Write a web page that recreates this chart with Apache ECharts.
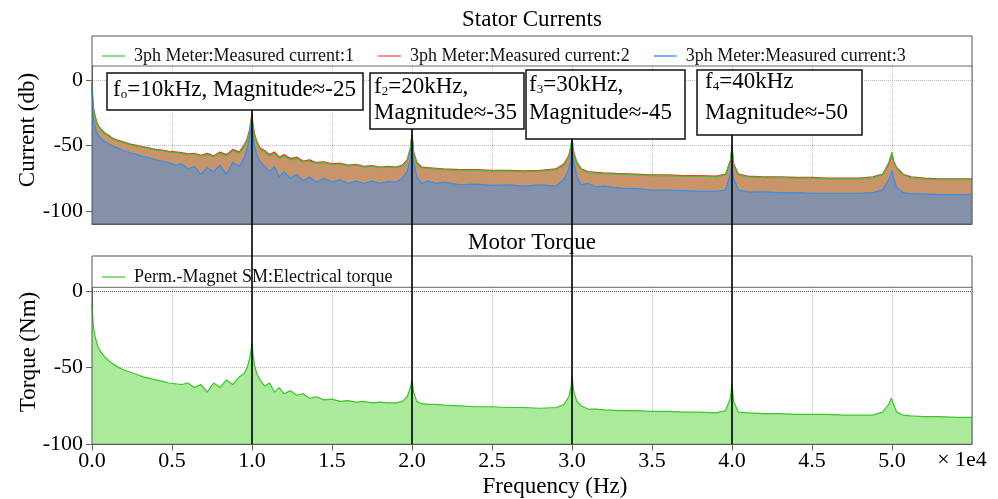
<!DOCTYPE html>
<html><head><meta charset="utf-8">
<script src="https://cdn.jsdelivr.net/npm/echarts@6/dist/echarts.min.js"></script>
<style>html,body{margin:0;padding:0;background:#fff}#c{width:998px;height:499px}</style>
</head><body><div id="c"></div>
<script>
// ---------- data ----------
const freqHz = [
  0, 50, 100, 200, 300, 400, 600, 800, 1000, 1300,
  1600, 2000, 2400, 2800, 3200, 3600, 4000, 4400, 4800, 5200,
  5600, 6000, 6400, 6800, 7200, 7600, 8000, 8400, 8800, 9200,
  9500, 9700, 9850, 9950, 10000, 10050, 10150, 10300, 10500, 10800,
  11100, 11400, 11700, 12000, 12400, 12800, 13200, 13600, 14000, 14500,
  15000, 15500, 16000, 16500, 17000, 17500, 18000, 18500, 19000, 19400,
  19700, 19900, 20000, 20100, 20300, 20600, 21000, 21500, 22000, 23000,
  24000, 25000, 26000, 27000, 28000, 29000, 29500, 29800, 29950, 30000,
  30100, 30300, 30600, 31000, 31500, 32000, 33000, 34000, 35000, 36000,
  37000, 38000, 39000, 39600, 39900, 40000, 40100, 40400, 41000, 42000,
  43000, 44000, 45000, 46000, 47000, 48000, 48800, 49400, 49800, 49950,
  50000, 50100, 50300, 50700, 51200, 52000, 53000, 54000, 55000
];
const current1 = [
  -3, -16, -23, -29, -33, -35.5, -38.5, -41, -42.5, -45,
  -46.5, -48, -49.5, -50.5, -51.5, -52.5, -53.5, -54, -55, -55.5,
  -56, -57, -56.5, -58, -57, -58.5, -56, -58, -54, -56,
  -51, -46, -40, -31, -27, -35, -42, -48, -53, -55,
  -58, -56, -60, -58, -61, -60, -62.5, -62, -63.5, -63,
  -64.5, -64, -65.5, -65, -66.5, -66, -67, -66.5, -67, -65.5,
  -62, -53, -41, -56, -64, -67, -67.5, -68, -68.5, -69,
  -69, -69.5, -69.5, -70, -69.5, -68.5, -65, -59, -49, -44,
  -56, -64, -68.5, -70.5, -71, -71.5, -72, -72.5, -73, -73,
  -73.5, -73.5, -74, -72.5, -61, -50, -65, -72.5, -74, -74.5,
  -74.5, -75, -75, -75.5, -75.5, -75.5, -74.5, -72.5, -63, -57,
  -55, -63, -68, -72.5, -74.5, -75.5, -76, -76, -76
];
const current2 = [
  -2, -15, -22, -28, -32, -35, -38, -40.5, -42, -44.5,
  -46, -47.5, -49, -50, -51, -52, -53, -53.5, -54.5, -55,
  -55.5, -56.5, -56, -57.5, -56, -58, -55, -57, -53, -55,
  -50, -45, -38, -30, -26, -33, -41, -47, -52, -54,
  -57, -55, -59, -57, -60, -59, -62, -61, -63, -62.5,
  -64, -63.5, -65, -64.5, -66, -65.5, -66.5, -66, -66.5, -65,
  -61, -52, -42, -55, -63, -66.5, -67, -67.5, -68, -68.5,
  -68.5, -69, -69, -69.5, -69, -68, -64, -58, -50, -45,
  -55, -63, -68, -70, -70.5, -71, -71.5, -72, -72.5, -72.5,
  -73, -73, -73.5, -72, -62, -52, -64, -72, -73.5, -74,
  -74, -74.5, -74.5, -75, -75, -75, -74, -72, -64, -58,
  -56, -62, -67, -72, -74, -75, -75.5, -75.5, -75.5
];
const current3 = [
  -5, -22, -30, -36, -40, -42, -45, -47, -48.5, -50.5,
  -52, -54, -55.5, -57, -58.5, -59.5, -61, -62, -63, -65,
  -64, -68, -66, -72, -67, -70, -65, -72, -63, -66,
  -60, -52, -44, -36, -31, -40, -50, -57, -62, -66,
  -70, -66, -74, -70, -75, -72, -77, -74, -78, -75,
  -78, -76, -79, -77, -79, -77, -79, -77.5, -78, -75,
  -70, -60, -46, -62, -74, -79, -77, -79, -78, -80,
  -79.5, -80.5, -80, -81, -80, -81, -76, -68, -58, -50,
  -62, -74, -80, -79, -81.5, -81, -82.5, -83, -84, -84,
  -84.5, -85, -85, -84, -72, -62, -75, -84, -85.5, -85.5,
  -86, -86, -86.5, -86.5, -86.5, -86.5, -86, -84, -76, -72,
  -69, -75, -82, -86, -87, -87, -87.5, -87.5, -87.5
];
const torque = [
  -8, -18, -24, -30, -34, -37, -40.5, -43, -45, -47.5,
  -49.5, -51.5, -53, -54.5, -56, -57, -58, -59, -60, -60.5,
  -61, -60, -63, -61, -66, -60, -63, -58, -61, -56,
  -54, -50, -44, -38, -34, -40, -48, -54, -58, -62,
  -60, -66, -63, -67, -65, -68, -67, -70, -69, -71,
  -70.5, -72, -71.5, -72.5, -72, -73, -72.5, -73, -73, -72,
  -69, -63, -58, -66, -72, -73.5, -74, -74, -74.5, -75,
  -75.5, -75.5, -76, -76, -76.5, -76, -74, -69, -62, -55,
  -65, -72, -75, -77, -77, -77.5, -78, -78, -78.5, -78.5,
  -79, -79, -79.5, -78, -70, -60, -72, -79, -79.5, -80,
  -80, -80.5, -80.5, -80.5, -81, -81, -81, -79, -74, -70,
  -69, -74, -79, -81, -81.5, -82, -82, -82.5, -82.5
];
const legendTop = ['3ph Meter:Measured current:1', '3ph Meter:Measured current:2', '3ph Meter:Measured current:3'];
const legendBottom = ['Perm.-Magnet SM:Electrical torque'];
const yTicksTop = [-100, -50, 0];
const yTicksBottom = [-100, -50, 0];
const peakFreqs = [10000, 20000, 30000, 40000];
const annotations = [
  ['{a|f}{s|o}{a|=10kHz, Magnitude≈-25}'],
  ['{a|f}{s|2}{a|=20kHz,}', 'Magnitude≈-35'],
  ['{a|f}{s|3}{a|=30kHz,}', 'Magnitude≈-45'],
  ['{a|f}{s|4}{a|=40kHz}', 'Magnitude≈-50']
];

// ---------- chart ----------
const FONT = '"Liberation Serif", "Times New Roman", serif';
const pairs = arr => freqHz.map((f, i) => [f, arr[i]]);
const chart = echarts.init(document.getElementById('c'), null, {renderer: 'canvas'});

const xBase = {
  type: 'value', min: 0, max: 55000, interval: 5000,
  axisLine: {show: true, onZero: false, lineStyle: {color: '#666'}},
  splitLine: {show: true, lineStyle: {color: '#bbb', type: 'dotted'}}
};
const yBase = (ticks, min, max, gi) => ({
  gridIndex: gi, type: 'value', min: min, max: max,
  axisLine: {show: true, onZero: false, lineStyle: {color: '#666'}},
  axisTick: {show: true, length: 6, customValues: ticks, lineStyle: {color: '#666'}},
  axisLabel: {customValues: ticks, fontSize: 22, fontFamily: FONT, color: '#000', margin: 9},
  splitLine: {show: true, lineStyle: {color: '#bbb', type: 'dotted'}}
});
const lineSeries = (name, data, color, legendColor, xi, w) => ({
  name: name, type: 'line', xAxisIndex: xi, yAxisIndex: xi, data: pairs(data),
  symbol: 'none', showSymbol: false, animation: false,
  lineStyle: {color: color, width: w || 1}, itemStyle: {color: legendColor}, z: 3
});

chart.setOption({
  animation: false,
  grid: [
    {left: 92, right: 26, top: 66, height: 158},
    {left: 92, right: 26, top: 287.3, height: 157}
  ],
  xAxis: [
    Object.assign({gridIndex: 0, axisTick: {show: false}, axisLabel: {show: false}}, xBase),
    Object.assign({gridIndex: 1,
      axisTick: {show: true, length: 6, lineStyle: {color: '#666'}},
      axisLabel: {show: true, showMaxLabel: false, formatter: v => (v / 1e4).toFixed(1),
        fontSize: 22, fontFamily: FONT, color: '#000', margin: 6}}, xBase)
  ],
  yAxis: [
    yBase(yTicksTop, -110, 10.8, 0),
    yBase(yTicksBottom, -100, 2.4, 1)
  ],
  legend: [
    {top: 41, left: 97, icon: 'rect', itemWidth: 23, itemHeight: 2, itemGap: 24, selectedMode: false,
      textStyle: {fontFamily: FONT, fontSize: 18, color: '#111', lineHeight: 20, padding: [0, 0, 0, 4]},
      data: [
        {name: legendTop[0], itemStyle: {color: '#8fdc8f'}},
        {name: legendTop[1], itemStyle: {color: '#f09191'}},
        {name: legendTop[2], itemStyle: {color: '#7fb3f0'}}
      ]},
    {top: 262, left: 97, icon: 'rect', itemWidth: 23, itemHeight: 2, selectedMode: false,
      textStyle: {fontFamily: FONT, fontSize: 18, color: '#111', lineHeight: 20, padding: [0, 0, 0, 4]},
      data: [{name: legendBottom[0], itemStyle: {color: '#8fdc80'}}]}
  ],
  series: [
    {name: 'fillUpper', type: 'line', xAxisIndex: 0, yAxisIndex: 0, data: pairs(current2), symbol: 'none',
      silent: true, lineStyle: {opacity: 0}, areaStyle: {color: '#c99469', opacity: 1, origin: 'start'}, z: 1},
    {name: 'fillLower', type: 'line', xAxisIndex: 0, yAxisIndex: 0, data: pairs(current3), symbol: 'none',
      silent: true, lineStyle: {opacity: 0}, areaStyle: {color: '#8590a9', opacity: 1, origin: 'start'}, z: 2},
    lineSeries(legendTop[1], current2, '#ff2e2e', '#f09191', 0, 1.4),
    lineSeries(legendTop[0], current1, '#3cc43c', '#8fdc8f', 0, 1.2),
    lineSeries(legendTop[2], current3, '#3a8ee6', '#7fb3f0', 0, 1.2),
    Object.assign(lineSeries(legendBottom[0], torque, '#3cc62e', '#8fdc80', 1, 1.2), {
      areaStyle: {color: '#abe99b', opacity: 1, origin: 'start'},
      markLine: {silent: true, symbol: 'none', label: {show: false}, animation: false,
        lineStyle: {color: '#555', type: 'dotted', width: 1}, data: [{yAxis: 0}]}
    })
  ]
});

// ---------- frames, titles, annotations ----------
const g = [];
g.push({type: 'rect', shape: {x: 92, y: 36, width: 880, height: 188}, style: {fill: 'none', stroke: '#555', lineWidth: 1}, z: 50});
g.push({type: 'line', shape: {x1: 92, y1: 66, x2: 972, y2: 66}, style: {stroke: '#666', lineWidth: 1}, z: 50});
g.push({type: 'rect', shape: {x: 92, y: 256, width: 880, height: 188.3}, style: {fill: 'none', stroke: '#555', lineWidth: 1}, z: 50});
g.push({type: 'line', shape: {x1: 92, y1: 287.3, x2: 972, y2: 287.3}, style: {stroke: '#666', lineWidth: 1}, z: 50});
const txt = (text, x, y, size, extra) => Object.assign({type: 'text', z: 60,
  style: {text: text, x: x, y: y, align: 'center', verticalAlign: 'middle', fontSize: size, fontFamily: FONT, fill: '#000'}}, extra || {});
g.push(txt('Stator Currents', 532, 20, 23));
g.push(txt('Motor Torque', 532, 243, 23));
g.push(txt('Frequency (Hz)', 555, 487, 23));
g.push(txt('× 1e4', 962, 460, 22));
g.push({type: 'text', x: 28, y: 130, rotation: Math.PI / 2, z: 60,
  style: {text: 'Current (db)', x: 0, y: 0, align: 'center', verticalAlign: 'middle', fontSize: 23, fontFamily: FONT, fill: '#000'}});
g.push({type: 'text', x: 29, y: 352, rotation: Math.PI / 2, z: 60,
  style: {text: 'Torque (Nm)', x: 0, y: 0, align: 'center', verticalAlign: 'middle', fontSize: 23, fontFamily: FONT, fill: '#000'}});

const boxes = [
  {x: 107, y: 73, w: 256, h: 37, tx: 113, ty: [90]},
  {x: 370, y: 73, w: 154, h: 56, tx: 374, ty: [87, 113]},
  {x: 526, y: 70, w: 159, h: 69, tx: 529, ty: [85, 113]},
  {x: 697, y: 70, w: 165, h: 65, tx: 705, ty: [82, 113]}
];
const rich = {a: {fontSize: 23, fontFamily: FONT, fill: '#000'}, s: {fontSize: 13, fontFamily: FONT, fill: '#000', verticalAlign: 'bottom'}};
const yBottomPx = chart.convertToPixel({yAxisIndex: 1}, -100);
peakFreqs.forEach((f, i) => {
  const b = boxes[i];
  const px = chart.convertToPixel({xAxisIndex: 0}, f);
  g.push({type: 'line', shape: {x1: px, y1: b.y + b.h, x2: px, y2: yBottomPx}, style: {stroke: '#000', lineWidth: 1.6}, z: 70});
  g.push({type: 'rect', shape: {x: b.x, y: b.y, width: b.w, height: b.h}, style: {fill: '#fff', stroke: '#111', lineWidth: 1.5}, z: 80});
  annotations[i].forEach((t, j) => {
    g.push({type: 'text', z: 90, style: {text: t, rich: rich, x: b.tx, y: b.ty[j], align: 'left', verticalAlign: 'middle',
      fontSize: 23, fontFamily: FONT, fill: '#000'}});
  });
});
chart.setOption({graphic: g});
</script>
</body></html>
